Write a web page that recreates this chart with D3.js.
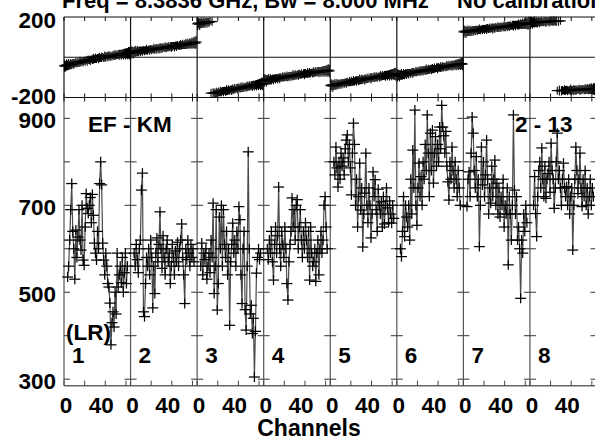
<!DOCTYPE html>
<html>
<head>
<meta charset="utf-8"/>
<style>
body { margin: 0; background: #fff; }
svg { display: block; }
text { font-family: "Liberation Sans", Arial, sans-serif; font-weight: bold; font-size: 22.5px; fill: #000; }
</style>
</head>
<body>
<script src="https://d3js.org/d3.v7.min.js"></script>
<script>
var width = 595, height = 440;

// panels = baselines, 64 channels each
var panels = ["1", "2", "3", "4", "5", "6", "7", "8"];
var xTicks = [0, 20, 40, 60];
var xLabels = [0, 40];
var phaseLabels = [200, -200];
var ampTicks = [300, 400, 500, 600, 700, 800, 900];
var ampLabels = [300, 500, 700, 900];
var firstAmpChan = 3;

// phase (deg), channels 0..63
var phase1 = [-42,-45,-38,-40,-36,-39,-34,-37, -31,-33,-30,-27,-31,-25,-28,-22,
  -24,-20,-23,-17,-19,-15,-18,-12, -14,-16,-10,-12,-7,-9,-5,-8,
  -3,-6,-1,-4,0,2,-2,4, 1,6,3,8,5,3,9,7,
  11,8,12,10,14,12,16,13, 17,15,19,16,20,18,22,20];
var phase2 = [24,28,22,27,30,26,31,28, 33,29,34,31,36,32,35,38,
  34,39,36,41,37,40,43,39, 44,41,46,42,45,48,44,49,
  46,51,47,50,53,49,55,51, 54,57,52,58,55,60,56,59,
  62,58,64,60,63,66,62,68, 65,69,66,71,68,74,70,76];
var phase3 = [166,170,164,169,172,168,173,170, 175,171,176,173,178,-178,177,-179,
  -176,-180,-174,-177,-172,-175,-170,-173, -168,-171,-166,-169,-164,-167,-162,-165,
  -160,-163,-158,-161,-156,-159,-154,-157, -152,-155,-150,-153,-148,-151,-146,-149,
  -144,-147,-142,-145,-140,-143,-138,-141, -136,-139,-134,-137,-132,-135,-130,-133];
var phase4 = [-116,-112,-118,-113,-110,-114,-109,-112, -107,-111,-105,-108,-104,-107,-102,-105,
  -100,-103,-98,-101,-96,-99,-95,-98, -93,-96,-91,-94,-89,-92,-88,-90,
  -86,-89,-84,-87,-83,-86,-81,-84, -80,-83,-78,-81,-77,-80,-75,-78,
  -74,-77,-72,-75,-71,-74,-70,-73, -68,-71,-66,-70,-65,-69,-64,-68];
var phase5 = [-141,-137,-143,-138,-135,-139,-133,-136, -131,-134,-129,-132,-127,-130,-125,-128,
  -123,-126,-121,-124,-119,-122,-117,-120, -115,-118,-113,-116,-111,-114,-110,-112,
  -108,-111,-106,-109,-104,-107,-102,-105, -100,-103,-99,-101,-97,-100,-95,-98,
  -93,-96,-91,-94,-90,-92,-88,-91, -86,-89,-84,-87,-83,-85,-81,-84];
var phase6 = [-91,-87,-93,-88,-85,-89,-83,-86, -81,-84,-79,-82,-77,-80,-75,-78,
  -73,-76,-71,-74,-69,-72,-67,-70, -65,-68,-63,-66,-61,-64,-60,-62,
  -58,-61,-56,-59,-54,-57,-52,-55, -50,-53,-49,-51,-47,-50,-45,-48,
  -43,-46,-41,-44,-40,-42,-38,-41, -36,-39,-34,-37,-33,-35,-31,-34];
var phase7 = [126,130,124,129,131,127,132,129, 134,130,135,132,137,133,136,139,
  135,140,137,141,138,142,140,144, 141,145,142,146,143,147,145,149,
  146,150,147,151,149,153,150,154, 151,155,153,157,154,158,155,159,
  157,161,158,162,160,163,161,165, 162,166,164,167,165,169,166,170];
var phase8 = [171,174,170,173,175,172,174,171, 176,173,175,177,174,176,178,175,
  177,179,176,178,180,177,179,181, 178,180,-166,179,-165,181,-167,-164,
  -166,-163,-165,-162,-166,-163,-164,-161, -165,-162,-163,-160,-164,-161,-162,-159,
  -163,-160,-161,-158,-162,-159,-160,-157, -161,-158,-159,-156,-160,-157,-158,-156];
var phaseErr = [30,26,28,24,27,22,25,23, 21,24,20,23,19,22,20,24,
  21,18,23,20,22,19,24,21, 20,23,19,22,25,20,23,21,
  19,24,22,20,23,18,21,25, 22,19,24,20,23,21,18,22,
  24,20,23,19,22,25,21,24, 22,26,23,27,25,28,29,31];

// amplitude, channels 3..61
var amp1 = [535,560,620,690,750,640,600,530, 643,580,627,690,620,597,700,574,
  562,650,727,693,681,700,718,660, 725,677,613,590,574,640,600,750,
  800,747,613,574,540,590,560,520, 512,475,379,430,455,420,500,450,
  590,512,540,560,522,580,500,545, 590,520,560];
var amp2 = [590,560,610,575,545,600,620,735, 774,455,444,520,580,560,600,540,
  620,580,464,560,497,590,625,570, 610,685,600,555,630,580,540,600,
  620,570,590,520,560,610,580,540, 595,570,615,560,600,620,657,580,
  540,474,600,575,620,590,560,610, 580,600,570];
var amp3 = [560,613,540,590,575,600,530,560, 590,545,620,580,705,497,560,690,
  459,520,673,600,700,560,690,610, 580,640,540,600,424,570,610,659,
  590,620,560,640,600,697,667,540, 474,600,640,460,413,560,823,600,
  450,470,405,440,305,410,544,580, 600,575,590];
var amp4 = [600,575,620,590,640,570,528,610, 650,590,630,742,600,560,640,610,
  580,650,600,520,482,570,610,640, 717,650,690,620,700,713,600,650,
  690,620,580,640,600,660,620,580, 640,528,650,590,560,570,600,525,
  590,620,540,600,640,590,620,700, 720,650,600];
var amp5 = [800,770,834,786,742,800,760,820, 790,809,770,830,850,862,800,840,
  786,724,820,889,840,700,760,650, 720,797,689,740,604,680,728,820,
  700,660,740,700,625,680,777,720, 759,690,640,737,700,680,708,650,
  720,657,700,740,694,660,710,680, 659,700,670];
var amp6 = [600,582,640,720,628,700,673,650, 700,620,760,680,827,740,919,700,
  654,740,797,720,766,700,800,760, 840,780,908,820,720,866,780,873,
  751,820,858,790,840,800,880,830, 930,880,860,820,870,790,754,712,
  800,760,834,780,740,800,760,720, 780,740,700];
var amp7 = [697,760,777,720,820,903,866,780, 740,812,720,760,605,700,834,747,
  800,720,770,850,760,680,740,705, 790,720,760,804,700,751,680,740,
  673,720,700,760,650,700,680,740, 563,720,680,620,700,908,735,680,
  720,620,650,600,486,620,590,680, 640,700,660];
var amp8 = [700,766,681,628,720,780,800,740, 832,760,720,790,716,760,773,800,
  730,843,780,760,693,740,800,866, 760,780,740,700,760,797,740,720,
  743,700,760,680,720,740,597,700, 760,834,780,727,760,820,740,697,
  760,720,780,700,740,680,720,760, 700,740,720];

var phases = [phase1, phase2, phase3, phase4, phase5, phase6, phase7, phase8];
var amps = [amp1, amp2, amp3, amp4, amp5, amp6, amp7, amp8];

var left = 64, right = 596.5;
var phaseTop = 17, phaseBottom = 97.5, ampBottom = 385.7;

var svg = d3.select("body").append("svg")
    .attr("width", width)
    .attr("height", height);

var panelX = d3.scaleBand().domain(panels).range([left, right]).padding(0);
var chan = d3.scaleLinear().domain([0, 64.5]).range([0, panelX.bandwidth()]);
var yPhase = d3.scaleLinear().domain([-200, 200]).range([phaseBottom, phaseTop]);
var yAmp = d3.scaleLinear().domain([285, 948]).range([ampBottom, phaseBottom]);

drawFrame();
drawPhase();
drawAmp();
drawLabels();

function line(g, x1, y1, x2, y2, col, w) {
  g.append("line")
      .attr("x1", x1).attr("y1", y1)
      .attr("x2", x2).attr("y2", y2)
      .attr("stroke", col)
      .attr("stroke-width", w);
}

function drawFrame() {
  var g = svg.append("g");

  [phaseTop, yPhase(0), phaseBottom].forEach(function(y) {
    line(g, left, y, right, y, "#111", 1.2);
  });
  line(g, left, ampBottom, right, ampBottom, "#666", 1.5);

  panels.forEach(function(p) {
    var x0 = panelX(p), x1 = x0 + panelX.bandwidth();
    line(g, x0, phaseTop, x0, phaseBottom, "#111", 1.2);
    line(g, x0, phaseBottom, x0, ampBottom, "#555", 1.2);

    xTicks.forEach(function(t) {
      var x = x0 + chan(t);
      line(g, x, phaseTop, x, phaseTop + 4, "#111", 1);
      line(g, x, phaseBottom - 4, x, phaseBottom + 4, "#111", 1);
      line(g, x, ampBottom - 5, x, ampBottom, "#444", 1);
    });

    ampTicks.forEach(function(v) {
      line(g, x0, yAmp(v), x0 + 6, yAmp(v), "#333", 1);
      line(g, x1 - 6, yAmp(v), x1, yAmp(v), "#333", 1);
    });
  });
}

function drawPhase() {
  var g = svg.append("g");
  phases.forEach(function(vals, k) {
    var x0 = panelX(panels[k]);
    vals.forEach(function(v, i) {
      var x = x0 + chan(i + 0.5), y = yPhase(v);
      line(g, x, yPhase(v - phaseErr[i]), x, yPhase(v + phaseErr[i]), "#000", 1.1);
      line(g, x - 5.5, y, x + 5.5, y, "#000", 1.1);
    });
  });
}

function drawAmp() {
  var g = svg.append("g");
  amps.forEach(function(vals, k) {
    var x0 = panelX(panels[k]);
    var pts = vals.map(function(v, i) {
      return [x0 + chan(firstAmpChan + i + 0.5), yAmp(v)];
    });

    g.append("path")
        .datum(pts)
        .attr("d", d3.line())
        .attr("fill", "none")
        .attr("stroke", "#4a4a4a")
        .attr("stroke-width", 1.2);

    pts.forEach(function(p) {
      line(g, p[0] - 5.5, p[1], p[0] + 5.5, p[1], "#000", 1.25);
      line(g, p[0], p[1] - 5, p[0], p[1] + 5, "#000", 1.25);
    });
  });
}

function drawLabels() {
  var g = svg.append("g");

  g.append("text").attr("x", 62).attr("y", 7.5)
      .style("font-size", "22px")
      .text("Freq = 8.3836 GHz, Bw = 8.000 MHz");
  g.append("text").attr("x", 457).attr("y", 7.5)
      .style("font-size", "22px")
      .text("No calibration");

  phaseLabels.forEach(function(v) {
    g.append("text")
        .attr("x", 56)
        .attr("y", yPhase(v) + (v > 0 ? 11 : 6.5))
        .attr("text-anchor", "end")
        .text(v);
  });

  ampLabels.forEach(function(v) {
    g.append("text")
        .attr("x", 56)
        .attr("y", yAmp(v) + 9.5)
        .attr("text-anchor", "end")
        .text(v);
  });

  panels.forEach(function(p) {
    var x0 = panelX(p);
    xLabels.forEach(function(t) {
      g.append("text")
          .attr("x", x0 + chan(t) + (t === 0 ? 2 : -4))
          .attr("y", 413)
          .attr("text-anchor", "middle")
          .text(t);
    });
    g.append("text")
        .attr("x", x0 + 8)
        .attr("y", 363)
        .text(p);
  });

  g.append("text").attr("x", 309).attr("y", 436)
      .attr("text-anchor", "middle")
      .style("font-size", "23px")
      .text("Channels");

  g.append("text").attr("x", 88).attr("y", 131.5).text("EF - KM");
  g.append("text").attr("x", 515).attr("y", 132).text("2 - 13");
  g.append("text").attr("x", 66).attr("y", 340).text("(LR)");
}
</script>
</body>
</html>
